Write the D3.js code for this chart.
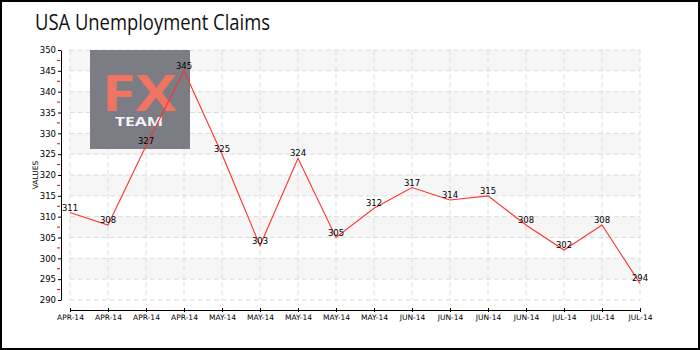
<!DOCTYPE html>
<html>
<head>
<meta charset="utf-8">
<script src="https://cdn.jsdelivr.net/npm/d3@7"></script>
<style>
  html, body { margin: 0; padding: 0; background: #fff; }
  svg { display: block; }
  .tick text, .lbl { font-family: "DejaVu Sans", sans-serif; fill: #000; }
</style>
</head>
<body>
<svg id="chart" width="700" height="350"></svg>
<script>
// Weekly initial jobless claims (thousands)
const weeks = ["APR-14","APR-14","APR-14","APR-14","MAY-14","MAY-14","MAY-14","MAY-14",
               "MAY-14","JUN-14","JUN-14","JUN-14","JUN-14","JUL-14","JUL-14","JUL-14"];
const claims = [311, 308, 327, 345, 325, 303, 324, 305, 312, 317, 314, 315, 308, 302, 308, 294];
const yTicks = [290, 295, 300, 305, 310, 315, 320, 325, 330, 335, 340, 345, 350];

const svg = d3.select("#chart");
const W = 700, H = 350;

// frame
svg.append("rect").attr("x", 1).attr("y", 1).attr("width", W - 2).attr("height", H - 2)
  .attr("fill", "#fff").attr("stroke", "#000").attr("stroke-width", 2);

// title
svg.append("text").attr("x", 35).attr("y", 30)
  .attr("font-family", "Open Sans, sans-serif").attr("font-size", 21)
  .attr("textLength", 235).attr("lengthAdjust", "spacingAndGlyphs")
  .attr("fill", "#111").text("USA Unemployment Claims");

const x = d3.scalePoint().domain(d3.range(claims.length)).range([70, 640]);
const y = d3.scaleLinear().domain([290, 350]).range([300, 50]);

// alternating bands
const bands = yTicks.slice(0, -1).filter((v, i) => i % 2 === 1);
svg.append("g").selectAll("rect").data(bands).join("rect")
  .attr("x", x(0)).attr("width", x(claims.length - 1) - x(0))
  .attr("y", d => y(d + 5)).attr("height", d => y(d) - y(d + 5))
  .attr("fill", "#f6f6f6");

// dashed grid
const grid = svg.append("g").attr("stroke", "#dcdcdc").attr("stroke-dasharray", "5,3");
grid.selectAll("line.h").data(yTicks).join("line").attr("class", "h")
  .attr("x1", x(0)).attr("x2", x(claims.length - 1))
  .attr("y1", d => y(d)).attr("y2", d => y(d));
grid.selectAll("line.v").data(d3.range(claims.length)).join("line").attr("class", "v")
  .attr("x1", d => x(d)).attr("x2", d => x(d))
  .attr("y1", y(350)).attr("y2", y(290));

// logo
const logo = svg.append("g");
logo.append("rect").attr("x", 90).attr("y", 50).attr("width", 100).attr("height", 99)
  .attr("fill", "#76777f").attr("opacity", 0.96);
logo.append("text").attr("x", 102).attr("y", 111)
  .attr("font-family", "Open Sans, sans-serif").attr("font-weight", 700)
  .attr("font-size", 50).attr("textLength", 75).attr("lengthAdjust", "spacingAndGlyphs")
  .attr("fill", "#ef7461").text("FX");
logo.append("text").attr("x", 115).attr("y", 126)
  .attr("font-family", "Open Sans, sans-serif").attr("font-weight", 700)
  .attr("font-size", 12).attr("textLength", 48).attr("lengthAdjust", "spacingAndGlyphs")
  .attr("fill", "#f4f4f4").text("TEAM");

// y axis
const yAxis = svg.append("g").attr("transform", "translate(61,0)")
  .call(d3.axisLeft(y).tickValues(yTicks).tickSize(3).tickSizeOuter(0).tickPadding(2));
yAxis.selectAll("text").attr("font-size", 8.5);
yAxis.select(".domain").attr("stroke", "#000");

// minor ticks
const minor = yTicks.slice(0, -1).map(v => v + 2.5);
svg.append("g").selectAll("line").data(minor).join("line")
  .attr("x1", 57).attr("x2", 60).attr("y1", d => y(d)).attr("y2", d => y(d))
  .attr("stroke", "#e00000");

// x axis
const xAxis = svg.append("g").attr("transform", "translate(0,310)")
  .call(d3.axisBottom(x).tickSize(2).tickSizeOuter(0).tickPadding(3).tickFormat(i => weeks[i]));
xAxis.selectAll(".tick line").attr("y1", -2).attr("stroke", "#000");
xAxis.selectAll("text").attr("font-size", 7.5);

// axis title
svg.append("text").attr("class", "lbl")
  .attr("transform", "translate(38,175) rotate(-90)")
  .attr("text-anchor", "middle").attr("font-size", 7.5).text("VALUES");

// series line
svg.append("path").datum(claims)
  .attr("fill", "none").attr("stroke", "#ff3030").attr("stroke-width", 1.1)
  .attr("d", d3.line().x((d, i) => x(i)).y(d => y(d)));

// value labels
svg.append("g").selectAll("text").data(claims).join("text").attr("class", "lbl")
  .attr("x", (d, i) => x(i)).attr("y", d => y(d) - 2)
  .attr("text-anchor", "middle").attr("font-size", 8.5).text(d => d);
</script>
</body>
</html>
